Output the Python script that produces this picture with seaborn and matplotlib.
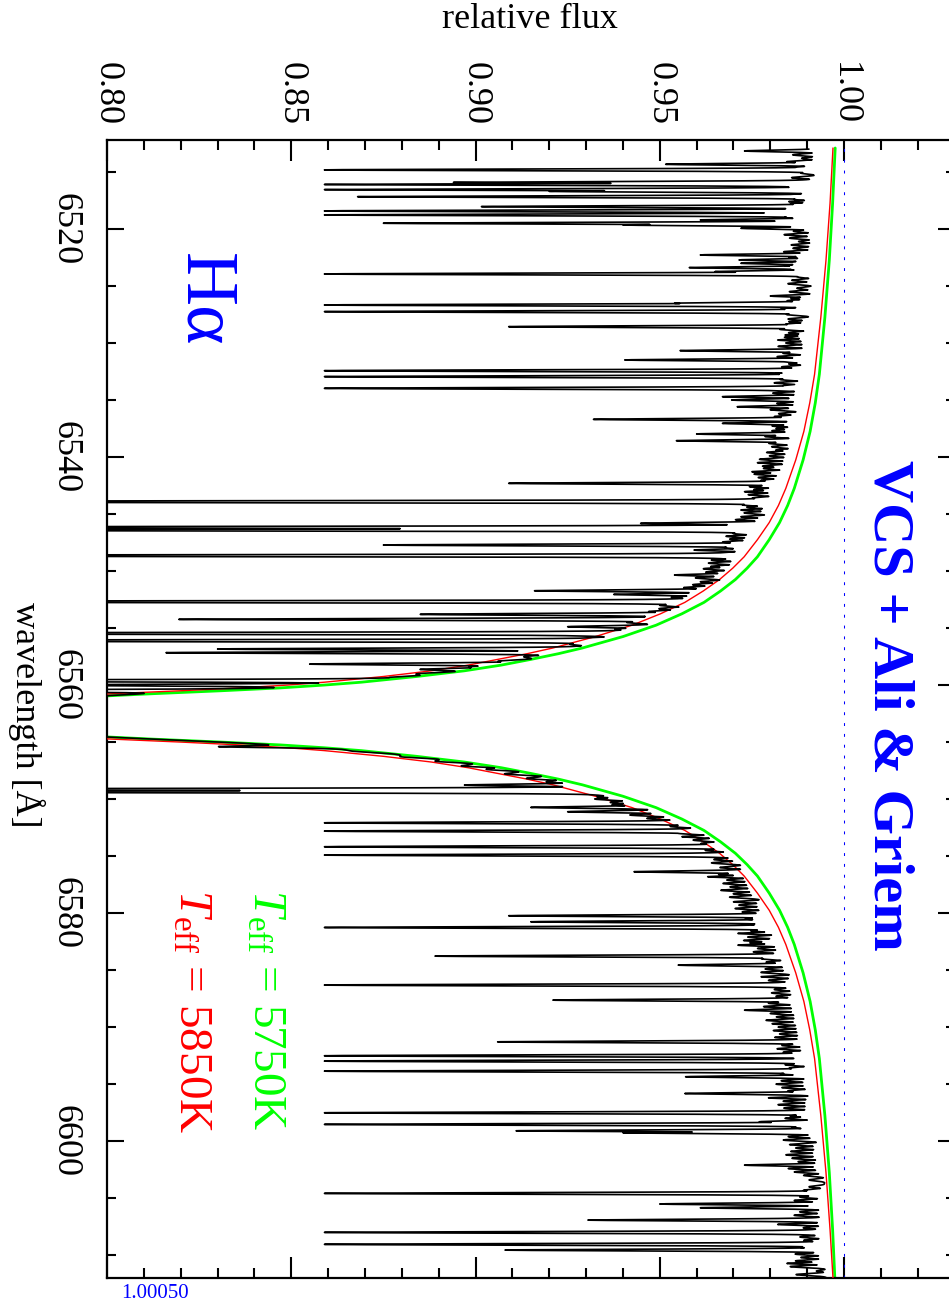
import numpy as np
import pandas as pd
import seaborn as sns
import matplotlib.pyplot as plt
from matplotlib.ticker import MultipleLocator, FixedLocator

# ---------------------------------------------------------------------------
# Model H-alpha profiles (wavelength in Angstrom, relative flux)
# ---------------------------------------------------------------------------
model_lam = [6512.90, 6517.75, 6522.75, 6527.75, 6532.75, 6535.25, 6537.75,
             6540.25, 6542.75, 6544.25, 6545.75, 6547.25, 6548.75, 6549.75,
             6550.75, 6551.75, 6552.75, 6553.75, 6554.75, 6555.75, 6556.75,
             6557.25, 6557.75, 6558.25, 6558.75, 6559.25, 6559.75, 6560.00,
             6560.25, 6560.50, 6560.75, 6560.95, 6561.15, 6561.75,
             6562.75,
             6563.75, 6564.35, 6564.55, 6564.75, 6565.00, 6565.25, 6565.50,
             6565.75, 6566.25, 6566.75, 6567.25, 6567.75, 6568.25, 6568.75,
             6569.75, 6570.75, 6571.75, 6572.75, 6573.75, 6574.75, 6575.75,
             6576.75, 6578.25, 6579.75, 6581.25, 6582.75, 6585.25, 6587.75,
             6590.25, 6592.75, 6597.75, 6602.75, 6607.75, 6612.00]

# Teff = 5750 K
green_flux = [0.9976, 0.9969, 0.9960, 0.9948, 0.9933, 0.9922, 0.9908,
              0.9889, 0.9865, 0.9847, 0.9825, 0.9797, 0.9765, 0.9737,
              0.9705, 0.9665, 0.9620, 0.9560, 0.9490, 0.9400, 0.9290,
              0.9225, 0.9150, 0.9070, 0.8970, 0.8840, 0.8690, 0.8590,
              0.8470, 0.8310, 0.8130, 0.8000, 0.7860, 0.7400,
              0.6800,
              0.7400, 0.7860, 0.8000, 0.8130, 0.8310, 0.8470, 0.8590,
              0.8690, 0.8840, 0.8970, 0.9070, 0.9150, 0.9225, 0.9290,
              0.9400, 0.9490, 0.9560, 0.9620, 0.9665, 0.9705, 0.9737,
              0.9765, 0.9797, 0.9825, 0.9847, 0.9865, 0.9889, 0.9908,
              0.9922, 0.9933, 0.9948, 0.9960, 0.9969, 0.9975]

# Teff = 5850 K
red_flux = [0.9970, 0.9962, 0.9951, 0.9937, 0.9920, 0.9907, 0.9891,
            0.9869, 0.9842, 0.9822, 0.9797, 0.9765, 0.9729, 0.9698,
            0.9662, 0.9618, 0.9568, 0.9502, 0.9425, 0.9325, 0.9210,
            0.9140, 0.9060, 0.8980, 0.8880, 0.8750, 0.8590, 0.8490,
            0.8360, 0.8200, 0.8020, 0.7890, 0.7750, 0.7300,
            0.6700,
            0.7300, 0.7750, 0.7890, 0.8020, 0.8200, 0.8360, 0.8490,
            0.8590, 0.8750, 0.8880, 0.8980, 0.9060, 0.9140, 0.9210,
            0.9325, 0.9425, 0.9502, 0.9568, 0.9618, 0.9662, 0.9698,
            0.9729, 0.9765, 0.9797, 0.9822, 0.9842, 0.9869, 0.9891,
            0.9907, 0.9920, 0.9937, 0.9951, 0.9962, 0.9970]

# how far the observed upper envelope sits below the 5750 K model
env_offset = [0.0045, 0.0045, 0.0040, 0.0035, 0.0035, 0.0035, 0.0035,
              0.0035, 0.0040, 0.0040, 0.0040, 0.0040, 0.0035, 0.0035,
              0.0030, 0.0030, 0.0025, 0.0020, 0.0015, 0.0010, 0.0005,
              0.0, 0.0, 0.0, 0.0, 0.0, 0.0, 0.0,
              0.0, 0.0, 0.0, 0.0, 0.0, 0.0,
              0.0,
              0.0, 0.0, 0.0, 0.0, 0.0, 0.0, 0.0,
              0.0, 0.0, 0.0, 0.0, 0.0, 0.0, 0.0,
              0.0020, 0.0015, 0.0010, 0.0, 0.0, 0.0005, 0.0010,
              0.0020, 0.0030, 0.0035, 0.0035, 0.0035, 0.0030, 0.0030,
              0.0030, 0.0025, 0.0025, 0.0010, 0.0020, 0.0020]

# ---------------------------------------------------------------------------
# Absorption lines of the observed spectrum
# ---------------------------------------------------------------------------
# strong lines: centre and minimum flux
line_lam = [6513.16, 6514.33, 6514.82, 6515.92, 6516.10, 6516.55, 6516.70,
            6517.17, 6517.60, 6518.04, 6518.42, 6518.77, 6519.21, 6519.50,
            6519.65, 6519.94, 6522.28, 6522.72, 6523.01, 6523.39, 6523.74,
            6523.95, 6525.88, 6526.52, 6526.67, 6527.25, 6528.13, 6528.57,
            6529.30, 6529.74, 6530.67, 6531.49, 6531.84, 6532.43, 6532.95,
            6533.98, 6534.12, 6534.71, 6535.00, 6535.59, 6536.70, 6537.05,
            6537.28, 6537.98, 6538.57, 6539.39, 6540.50, 6541.29, 6542.31,
            6543.04, 6543.92, 6544.65, 6545.24, 6545.82, 6546.17, 6546.40,
            6547.72, 6548.16, 6548.65, 6549.04, 6550.35, 6550.94, 6551.73,
            6552.05, 6552.69, 6553.80, 6554.24, 6554.88, 6555.47, 6555.61,
            6556.11, 6556.84, 6557.16, 6558.16, 6558.62, 6559.62, 6560.00,
            6560.50, 6565.41, 6568.77, 6569.15, 6569.36, 6569.80, 6570.73,
            6571.11, 6572.08, 6572.81, 6573.30, 6574.18, 6574.91, 6576.37,
            6576.81, 6579.01, 6580.23, 6580.76, 6581.26, 6581.78, 6582.81,
            6583.77, 6584.56, 6585.58, 6586.31, 6587.63, 6588.51, 6591.29,
            6592.51, 6592.98, 6593.86, 6594.35, 6595.82, 6596.20, 6597.51,
            6598.30, 6598.53, 6599.09, 6599.26, 6602.10, 6604.58, 6605.51,
            6605.84, 6606.92, 6607.30, 6608.00, 6609.05, 6609.55, 6610.72,
            6611.39]
line_min = [0.973, 0.9516, 0.859, 0.894, 0.859, 0.859, 0.920,
            0.868, 0.985, 0.9016, 0.859, 0.859, 0.961, 0.875,
            0.940, 0.972, 0.961, 0.9715, 0.972, 0.958, 0.965,
            0.859, 0.980, 0.954, 0.859, 0.859, 0.985, 0.909,
            0.984, 0.982, 0.9555, 0.9405, 0.985, 0.859, 0.859,
            0.859, 0.977, 0.967, 0.9695, 0.971, 0.932, 0.967,
            0.9805, 0.960, 0.9545, 0.9815, 0.9765, 0.975, 0.909,
            0.973, 0.70, 0.972, 0.972, 0.9448, 0.70, 0.70,
            0.875, 0.9593, 0.70, 0.964, 0.954, 0.961, 0.916,
            0.9375, 0.70, 0.885, 0.8195, 0.925, 0.70, 0.919,
            0.70, 0.830, 0.816, 0.855, 0.885, 0.70, 0.78,
            0.70, 0.8305, 0.897, 0.70, 0.70, 0.933, 0.915,
            0.925, 0.859, 0.859, 0.956, 0.859, 0.859, 0.943,
            0.963, 0.970, 0.909, 0.915, 0.859, 0.9712, 0.9712,
            0.889, 0.955, 0.9775, 0.859, 0.921, 0.973, 0.906,
            0.859, 0.859, 0.859, 0.957, 0.9568, 0.9795, 0.859,
            0.977, 0.859, 0.911, 0.940, 0.973, 0.859, 0.950,
            0.961, 0.9305, 0.982, 0.859, 0.859, 0.908, 0.9845,
            0.9925]

# weak lines: centre and fractional depth
weak_lam = [6513.5, 6513.8, 6514.1, 6514.6, 6515.1, 6515.5,
            6516.3, 6517.0, 6517.4, 6517.8, 6518.2, 6518.6, 6519.0, 6519.35,
            6519.8, 6520.2, 6520.5, 6520.8, 6521.1, 6521.4, 6521.7, 6522.0,
            6522.5, 6522.9, 6523.2, 6523.55, 6524.2, 6524.5, 6524.8, 6525.2,
            6525.5, 6526.1, 6526.3, 6527.0, 6527.5, 6527.9, 6528.35, 6528.8,
            6529.1, 6529.5, 6530.0, 6530.3, 6530.9, 6531.2, 6531.65, 6532.1,
            6532.7, 6533.2, 6533.5, 6533.75, 6534.4, 6535.3, 6535.85, 6536.2,
            6536.45, 6537.5, 6537.7, 6538.2, 6538.8, 6539.1, 6539.6, 6539.9,
            6540.2, 6540.8, 6541.0, 6541.5, 6541.8, 6542.05, 6542.6, 6542.85,
            6543.3, 6543.6, 6544.2, 6544.4, 6544.9, 6545.5, 6546.7, 6546.95,
            6547.2, 6547.45, 6547.95, 6548.4, 6549.3, 6549.6, 6549.8, 6550.1,
            6550.6, 6551.2, 6551.45, 6552.3, 6552.5, 6553.0, 6553.3, 6553.55,
            6554.0, 6554.5, 6555.1, 6555.9, 6556.4, 6557.5, 6557.9, 6558.4,
            6559.0, 6559.3,
            6565.8, 6566.3, 6566.7, 6567.1, 6567.4, 6567.8, 6568.2, 6568.5,
            6570.0, 6570.3, 6570.5, 6571.4, 6571.7, 6572.4, 6573.0, 6573.6,
            6573.9, 6574.5, 6575.3, 6575.6, 6576.0, 6576.6, 6577.1, 6577.4,
            6577.7, 6578.0, 6578.3, 6578.6, 6579.3, 6579.6, 6579.9, 6580.5,
            6581.0, 6581.55, 6582.1, 6582.4, 6582.6, 6583.1, 6583.4, 6584.0,
            6584.3, 6584.9, 6585.2, 6585.9, 6586.7, 6587.0, 6587.3, 6587.9,
            6588.2, 6588.8, 6589.1, 6589.4, 6589.7, 6590.0, 6590.3, 6590.6,
            6590.9, 6591.6, 6591.9, 6592.2, 6593.3, 6593.6, 6594.1, 6594.7,
            6595.0, 6595.3, 6595.6, 6596.5, 6596.8, 6597.1, 6597.8, 6598.0,
            6598.8, 6599.6, 6599.9, 6600.3, 6600.6, 6600.9, 6601.2, 6601.5,
            6601.8, 6602.4, 6602.7, 6603.0, 6603.4, 6604.0, 6604.3, 6604.9,
            6605.2, 6606.2, 6606.5, 6607.0, 6607.6, 6608.4, 6608.7, 6609.3,
            6609.9, 6610.2, 6610.5, 6611.0, 6611.7]
weak_depth = [0.007, 0.0045, 0.0085, 0.006, 0.0045, 0.007,
              0.0085, 0.007, 0.006, 0.007, 0.0085, 0.010, 0.0085, 0.011,
              0.007, 0.006, 0.0085, 0.007, 0.0045, 0.0065, 0.006, 0.0085,
              0.007, 0.006, 0.008, 0.0065, 0.0045, 0.006, 0.007, 0.0045,
              0.0065, 0.006, 0.007, 0.0085, 0.007, 0.0065, 0.007, 0.0085,
              0.006, 0.007, 0.0065, 0.0085, 0.007, 0.0085, 0.006, 0.007,
              0.0085, 0.007, 0.0085, 0.006, 0.0085, 0.007, 0.0085, 0.006,
              0.007, 0.006, 0.007, 0.0085, 0.007, 0.006, 0.007, 0.006,
              0.0085, 0.007, 0.0065, 0.0085, 0.007, 0.006, 0.0085, 0.007,
              0.008, 0.0065, 0.0085, 0.007, 0.007, 0.0085, 0.007, 0.0085,
              0.007, 0.0085, 0.007, 0.006, 0.0085, 0.007, 0.0085, 0.007,
              0.0085, 0.007, 0.0085, 0.0085, 0.007, 0.0085, 0.007, 0.0085,
              0.007, 0.0085, 0.007, 0.0085, 0.007, 0.006, 0.007, 0.006,
              0.007, 0.006,
              0.0045, 0.006, 0.007, 0.0085, 0.007, 0.0085, 0.0085, 0.007,
              0.0085, 0.007, 0.0085, 0.011, 0.0085, 0.007, 0.0085, 0.007,
              0.006, 0.007, 0.007, 0.0085, 0.007, 0.0085, 0.007, 0.0085,
              0.007, 0.010, 0.007, 0.0085, 0.007, 0.0085, 0.007, 0.007,
              0.006, 0.007, 0.0085, 0.010, 0.0085, 0.007, 0.0085, 0.007,
              0.006, 0.007, 0.0085, 0.007, 0.006, 0.007, 0.006, 0.0085,
              0.010, 0.0085, 0.007, 0.010, 0.0085, 0.007, 0.0085, 0.007,
              0.0085, 0.007, 0.0085, 0.007, 0.007, 0.006, 0.0085, 0.0085,
              0.010, 0.0085, 0.007, 0.0085, 0.010, 0.0085, 0.007, 0.0085,
              0.007, 0.0085, 0.010, 0.0085, 0.007, 0.0085, 0.010, 0.0085,
              0.007, 0.010, 0.0085, 0.006, 0.0045, 0.0045, 0.006, 0.007,
              0.0085, 0.007, 0.0085, 0.007, 0.006, 0.007, 0.006, 0.007,
              0.0085, 0.007, 0.0085, 0.010, 0.0085]

flux_ticks = [0.80, 0.85, 0.90, 0.95, 1.00]
flux_tick_labels = ["0.80", "0.85", "0.90", "0.95", "1.00"]
wave_ticks = [6520, 6540, 6560, 6580, 6600]
wave_tick_labels = ["6520", "6540", "6560", "6580", "6600"]

# ---------------------------------------------------------------------------
# Build the observed spectrum on a fine wavelength grid
# ---------------------------------------------------------------------------
wave = np.arange(6513.0, 6612.3, 0.01)
env_nodes = np.array(green_flux) - np.array(env_offset)
envelope = np.interp(wave, model_lam, env_nodes)


def line_shape(center, width):
    dx = (wave - center) / width
    return 0.8 * np.exp(-0.5 * dx ** 2) + 0.2 / (1.0 + (dx / 1.2) ** 2)


transmission = np.ones_like(wave)
for lc, fmin in zip(line_lam, line_min):
    c0 = np.interp(lc, model_lam, env_nodes)
    depth = max(0.0, 1.0 - fmin / c0)
    transmission = np.minimum(transmission, 1.0 - depth * line_shape(lc, 0.075))
for lc, dep in zip(weak_lam, weak_depth):
    transmission = np.minimum(transmission, 1.0 - dep * line_shape(lc, 0.09))

spectrum = pd.DataFrame({"wavelength": wave, "flux": envelope * transmission})
green_df = pd.DataFrame({"wavelength": model_lam, "flux": green_flux})
red_df = pd.DataFrame({"wavelength": model_lam, "flux": red_flux})

# ---------------------------------------------------------------------------
# Figure
# ---------------------------------------------------------------------------
sns.set_style("ticks")
plt.rcParams["font.family"] = ["Liberation Serif", "DejaVu Serif"]
plt.rcParams["mathtext.fontset"] = "custom"
plt.rcParams["mathtext.rm"] = "Liberation Serif"
plt.rcParams["mathtext.it"] = "Liberation Serif:italic"
plt.rcParams["mathtext.bf"] = "Liberation Serif:bold"
for key in ("text.color", "axes.labelcolor", "xtick.color", "ytick.color",
            "axes.edgecolor"):
    plt.rcParams[key] = "black"

W, H = 949, 1305
fig = plt.figure(figsize=(W / 100, H / 100), dpi=100)
x0, x1, y_top, y_bot = 107, 954.6, 140, 1278
ax = fig.add_axes([x0 / W, 1 - y_bot / H, (x1 - x0) / W, (y_bot - y_top) / H])
ax.set_facecolor("white")

ax.axvline(1.0, color="blue", lw=0.75, ls=(0, (2.8, 7.6)), zorder=1)

sns.lineplot(data=green_df, x="flux", y="wavelength", orient="y", sort=True,
             estimator=None, color="#00ff00", lw=2.0, ax=ax, zorder=2)
sns.lineplot(data=red_df, x="flux", y="wavelength", orient="y", sort=True,
             estimator=None, color="#ff0000", lw=1.0, ax=ax, zorder=3)
sns.lineplot(data=spectrum, x="flux", y="wavelength", orient="y", sort=True,
             estimator=None, color="black", lw=1.2, ax=ax, zorder=4)

ax.set_xlim(0.80, 1.03)
ax.set_ylim(6612.0, 6512.2)

# flux axis along the top
ax.xaxis.set_major_locator(FixedLocator(flux_ticks))
ax.xaxis.set_minor_locator(MultipleLocator(0.01))
ax.set_xticklabels(flux_tick_labels)
ax.tick_params(axis="x", which="both", direction="in", top=True, bottom=True,
               labeltop=True, labelbottom=False, width=1.5, labelsize=26,
               pad=10.5)
ax.tick_params(axis="x", which="major", length=15)
ax.tick_params(axis="x", which="minor", length=7.5)
for lab in ax.get_xticklabels():
    lab.set_rotation(-90)
    lab.set_ha("center")
    lab.set_va("bottom")

# wavelength axis along the left
ax.yaxis.set_major_locator(FixedLocator(wave_ticks))
ax.yaxis.set_minor_locator(MultipleLocator(5))
ax.set_yticklabels(wave_tick_labels)
ax.tick_params(axis="y", which="both", direction="in", left=True, right=True,
               labelleft=True, labelright=False, width=1.5, labelsize=26,
               pad=18)
ax.tick_params(axis="y", which="major", length=12.5)
ax.tick_params(axis="y", which="minor", length=6.2)
for lab in ax.get_yticklabels():
    lab.set_rotation(-90)
    lab.set_ha("right")
    lab.set_va("center")

for sp in ax.spines.values():
    sp.set_linewidth(1.6)
    sp.set_color("black")

ax.xaxis.set_label_position("top")
ax.set_xlabel("relative flux", fontsize=26)
ax.xaxis.label.set_va("center")
ax.xaxis.set_label_coords((530 - x0) / (x1 - x0), (y_bot - 20) / (y_bot - y_top))
ax.set_ylabel("wavelength [Å]", fontsize=26, rotation=-90)
ax.yaxis.label.set_va("center")
ax.yaxis.label.set_ha("center")
ax.yaxis.set_label_coords((27 - x0) / (x1 - x0), (y_bot - 715) / (y_bot - y_top))


def px_text(x, y, s, **kw):
    fig.text(x / W, 1 - y / H, s, **kw)


px_text(888, 705, "VCS + Ali & Griem", rotation=-90, ha="center", va="center",
        fontsize=42, fontweight="bold", color="blue")
px_text(203, 300, "Hα", rotation=-90, ha="center", va="center",
        fontsize=54, color="blue")
px_text(265, 1010, r"$T_{\rm eff}$ = 5750K", rotation=-90, ha="center",
        va="center", fontsize=34, color="#00ff00")
px_text(191, 1011, r"$T_{\rm eff}$ = 5850K", rotation=-90, ha="center",
        va="center", fontsize=34, color="#ff0000")
px_text(121, 1293, "1.00050", ha="left", va="center", fontsize=15,
        color="blue")

fig.savefig("out.png", dpi=100)
